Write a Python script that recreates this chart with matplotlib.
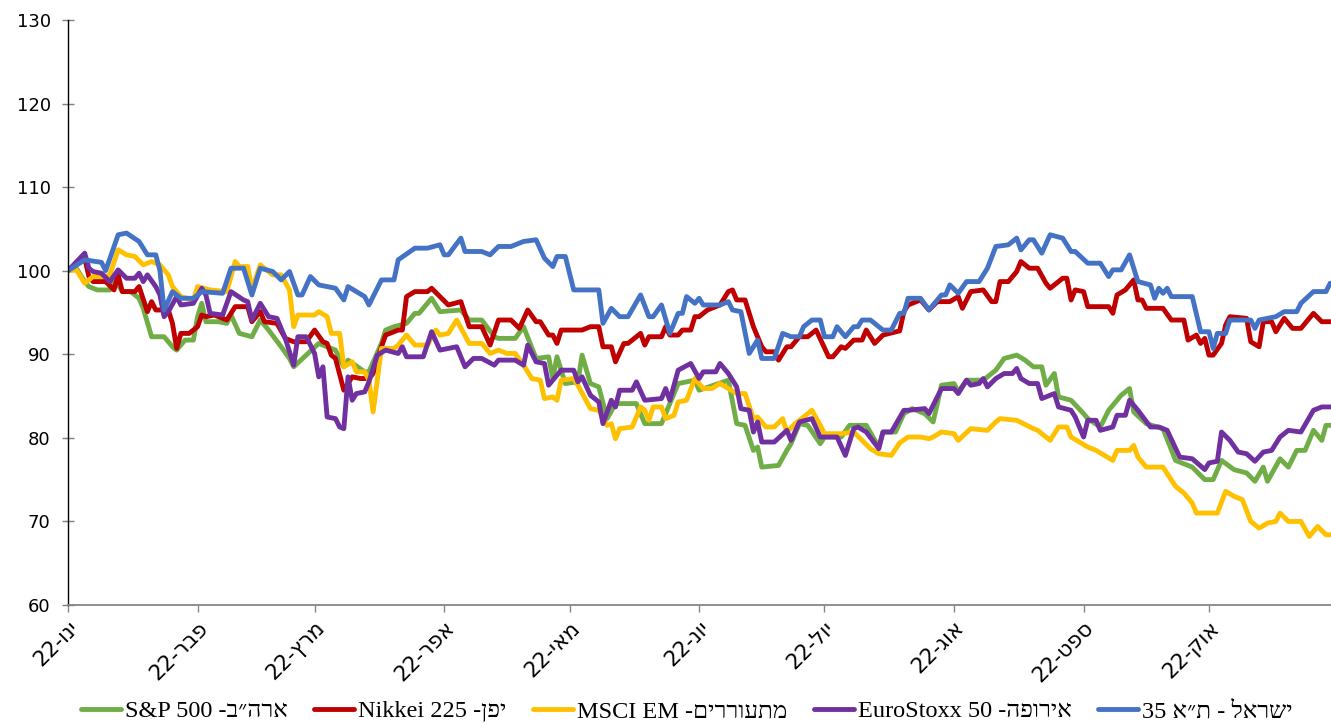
import re
import pandas as pd
import matplotlib
matplotlib.use('Agg')
import matplotlib.pyplot as plt

# index levels (start of year = 100), (days since 2022-01-01, value)
sp500 = [(0, 100), (2, 100.3), (4, 98.7), (5, 98.1), (7, 97.7), (10, 97.7), (11, 99.1), (13, 97.5), (15, 97.5),
         (17, 96.7), (18, 95.5), (20, 92.1), (23, 92.1), (25, 90.9), (26, 90.5), (28, 91.7), (30, 91.7), (31, 94.5),
         (32, 96.1), (33, 93.9), (36, 93.9), (38, 93.7), (39, 94.7), (41, 92.5), (44, 92.1), (46, 94.1), (48, 92.9),
         (51, 90.9), (53, 89.5), (54, 88.5), (60, 91.3), (64, 90.5), (66, 88.5), (67, 89.3), (71, 87.9), (72, 87.9),
         (75, 91.3), (76, 92.9), (78, 93.3), (81, 93.7), (83, 94.9), (84, 94.9), (87, 96.7), (89, 95.1), (94, 95.3),
         (96, 94.1), (99, 94.1), (102, 92.1), (103, 91.9), (107, 91.9), (109, 93.3), (112, 89.5), (115, 89.7),
         (116, 87.1), (117, 89.7), (119, 86.5), (122, 86.7), (123, 89.9), (125, 86.5), (127, 86.1), (129, 82.3),
         (131, 84.1), (136, 84.1), (138, 81.7), (142, 81.7), (146, 86.5), (150, 86.9), (151, 85.7), (158, 86.9),
         (160, 81.7), (162, 81.5), (164, 78.5), (165, 78.9), (166, 76.5), (170, 76.7), (172, 78.5), (173, 79.3),
         (175, 81.7), (177, 81.5), (180, 79.3), (181, 80.1), (185, 80.1), (187, 81.5), (191, 81.5), (194, 78.9),
         (195, 80.7), (198, 80.7), (200, 82.9), (202, 83.5), (205, 82.9), (207, 81.9), (209, 86.3), (212, 86.5),
         (213, 85.5), (215, 86.9), (219, 86.9), (222, 88.1), (224, 89.5), (227, 89.9), (229, 89.3), (231, 88.5),
         (233, 88.5), (234, 86.3), (236, 87.7), (237, 84.9), (240, 84.5), (243, 82.9), (244, 82.3), (247, 81.3),
         (249, 83.3), (252, 85.1), (254, 85.9), (255, 83.1), (258, 81.7), (262, 81.1), (265, 77.3), (269, 76.5),
         (272, 75.0), (274, 75.0), (276, 77.3), (279, 76.2), (282, 75.8), (284, 74.8), (286, 76.5), (287, 74.8),
         (290, 77.5), (292, 76.5), (294, 78.5), (296, 78.5), (298, 80.9), (300, 79.7), (301, 81.5), (302, 81.5)]

nikkei = [(0, 100), (4, 101.5), (5, 99.3), (6, 98.7), (9, 98.7), (11, 97.7), (12, 99.5), (13, 97.5), (16, 97.5),
          (17, 98.1), (19, 95.1), (20, 96.3), (21, 95.3), (24, 95.3), (25, 93.7), (26, 90.7), (27, 92.5), (29, 92.5),
          (31, 93.3), (32, 94.7), (33, 94.5), (35, 94.7), (38, 94.1), (40, 95.7), (43, 95.7), (44, 93.9), (46, 95.1),
          (47, 93.9), (50, 93.7), (52, 91.9), (54, 91.5), (57, 91.5), (59, 92.9), (61, 91.5), (62, 91.3), (63, 89.9),
          (64, 89.5), (66, 85.7), (68, 87.3), (70, 87.1), (72, 87.1), (73, 87.7), (75, 90.9), (76, 92.3), (79, 92.9),
          (80, 92.9), (81, 96.9), (83, 97.5), (86, 97.5), (87, 97.9), (91, 95.9), (94, 96.3), (96, 93.3), (99, 93.3),
          (101, 91.1), (103, 94.1), (106, 94.1), (108, 93.1), (110, 95.3), (112, 93.9), (113, 93.9), (115, 92.3),
          (116, 92.3), (117, 91.3), (118, 92.9), (123, 92.9), (125, 93.3), (127, 93.3), (128, 90.9), (130, 90.9),
          (131, 89.1), (133, 91.3), (134, 91.3), (137, 92.5), (138, 91.1), (139, 92.1), (142, 92.1), (143, 93.3),
          (144, 92.3), (146, 92.3), (147, 92.9), (149, 92.9), (150, 94.5), (151, 94.5), (153, 95.3), (156, 95.9),
          (158, 97.5), (159, 97.7), (160, 96.5), (162, 96.5), (164, 93.3), (166, 90.9), (167, 90.3), (169, 90.3),
          (170, 89.3), (172, 90.9), (173, 90.9), (175, 92.1), (177, 92.1), (179, 92.9), (182, 89.7), (183, 89.7),
          (185, 90.9), (186, 90.7), (188, 91.7), (190, 91.7), (191, 92.9), (193, 91.3), (195, 92.3), (199, 92.8),
          (200, 95.1), (201, 95.9), (204, 96.5), (206, 95.3), (208, 96.3), (211, 96.3), (213, 96.9), (214, 95.5),
          (216, 97.5), (219, 97.7), (221, 96.3), (222, 96.3), (223, 98.7), (225, 98.7), (227, 99.9), (228, 101.1),
          (230, 100.3), (232, 100.3), (234, 98.5), (235, 97.9), (238, 99.1), (239, 99.1), (240, 96.5), (241, 97.7),
          (243, 97.5), (244, 95.7), (249, 95.7), (250, 94.9), (251, 97.1), (253, 97.7), (255, 98.9), (256, 96.5),
          (257, 96.5), (258, 95.5), (262, 95.5), (264, 94.1), (267, 94.1), (268, 91.7), (270, 92.3), (271, 91.3),
          (272, 91.9), (273, 89.9), (274, 89.9), (276, 91.3), (277, 93.5), (278, 94.5), (282, 94.3), (283, 91.5),
          (285, 90.9), (286, 93.9), (288, 93.9), (289, 92.7), (291, 94.3), (293, 93.1), (295, 93.1), (298, 94.9),
          (300, 93.9), (302, 93.9)]

msci_em = [(0, 100), (2, 100.1), (4, 98.5), (6, 99.3), (9, 99.3), (10, 99.5), (12, 102.5), (14, 101.9), (16, 101.7),
           (18, 100.7), (20, 101.1), (22, 100.7), (24, 99.5), (25, 98.1), (27, 96.9), (30, 96.5), (31, 98.1),
           (34, 97.7), (38, 97.5), (40, 101.1), (41, 100.5), (43, 100.5), (44, 97.7), (46, 100.7), (49, 99.5),
           (51, 99.5), (53, 97.7), (54, 93.3), (55, 94.7), (59, 94.7), (60, 95.1), (62, 94.5), (63, 92.5), (65, 92.5),
           (66, 88.5), (68, 89.1), (69, 87.9), (71, 87.9), (72, 86.9), (73, 83.1), (75, 90.7), (76, 90.7), (78, 90.7),
           (79, 91.1), (81, 92.3), (83, 91.1), (86, 91.1), (88, 92.9), (89, 92.3), (91, 92.5), (93, 94.1), (96, 91.3),
           (99, 91.3), (101, 90.1), (103, 90.5), (105, 90.1), (107, 90.1), (109, 88.7), (111, 87.1), (113, 86.9),
           (114, 84.7), (116, 84.9), (117, 84.5), (118, 86.9), (121, 87.1), (122, 86.3), (125, 83.5), (127, 83.3),
           (129, 81.5), (130, 81.7), (131, 79.9), (132, 81.1), (135, 81.3), (137, 83.7), (138, 83.3), (139, 82.1),
           (140, 83.7), (142, 83.7), (143, 82.3), (145, 82.7), (146, 84.3), (148, 84.5), (150, 87.1), (152, 85.9),
           (154, 85.9), (156, 86.5), (158, 85.9), (160, 85.3), (162, 85.3), (164, 82.3), (165, 82.5), (167, 81.3),
           (169, 81.3), (171, 82.3), (172, 80.7), (174, 81.7), (176, 82.5), (178, 83.3), (180, 81.5), (181, 80.5),
           (185, 80.5), (188, 80.7), (192, 78.7), (194, 78.1), (197, 77.9), (199, 79.4), (201, 80.1), (204, 80.1),
           (206, 79.9), (207, 80.1), (209, 80.7), (212, 80.5), (213, 79.7), (216, 81.1), (220, 80.9), (222, 81.9),
           (223, 82.3), (227, 82.1), (231, 81.1), (232, 80.9), (234, 80.1), (235, 79.7), (237, 81.3), (239, 81.3),
           (240, 80.1), (244, 78.9), (246, 78.5), (248, 77.9), (250, 77.3), (251, 78.5), (254, 78.5), (255, 79.1),
           (256, 77.7), (258, 76.5), (262, 76.5), (265, 74.2), (267, 73.4), (269, 72.2), (270, 71.0), (275, 71.0),
           (277, 73.6), (279, 73.0), (281, 72.6), (283, 70.0), (285, 69.2), (287, 69.8), (289, 70.0), (290, 71.0),
           (292, 70.0), (295, 70.0), (297, 68.2), (299, 69.4), (301, 68.4), (302, 68.4)]

eurostoxx = [(0, 100), (4, 102.1), (5, 100.3), (6, 99.9), (8, 99.7), (10, 98.7), (12, 100.1), (14, 99.1), (16, 99.1),
             (17, 99.7), (18, 98.7), (19, 99.5), (21, 98.1), (22, 97.1), (23, 94.5), (24, 95.1), (26, 96.9),
             (27, 95.9), (30, 96.1), (32, 97.9), (33, 97.1), (34, 94.9), (37, 94.7), (39, 97.5), (42, 96.5),
             (43, 96.3), (44, 94.1), (46, 96.1), (48, 94.5), (50, 94.3), (52, 91.9), (54, 88.7), (55, 92.1),
             (57, 92.1), (59, 90.1), (60, 87.3), (61, 88.5), (62, 82.5), (64, 82.3), (65, 81.3), (66, 81.1),
             (67, 87.3), (68, 84.5), (69, 85.3), (71, 85.5), (72, 86.7), (74, 89.9), (76, 90.5), (79, 90.1),
             (80, 90.9), (81, 89.7), (85, 89.7), (87, 92.7), (89, 90.5), (93, 90.9), (95, 88.5), (97, 89.5),
             (99, 89.5), (102, 88.7), (103, 89.3), (107, 89.3), (109, 88.7), (110, 91.1), (112, 89.1), (114, 88.9),
             (115, 86.3), (118, 88.1), (121, 88.1), (122, 86.7), (123, 87.3), (125, 85.1), (127, 84.3), (128, 81.7),
             (130, 84.5), (131, 83.7), (132, 85.7), (135, 85.7), (136, 86.7), (138, 84.5), (142, 84.7), (143, 85.9),
             (144, 84.5), (146, 88.1), (149, 88.9), (151, 87.1), (152, 87.9), (155, 87.9), (156, 88.9), (158, 87.7),
             (160, 86.1), (161, 83.5), (163, 83.3), (164, 80.7), (165, 81.9), (166, 79.5), (169, 79.5), (172, 80.9),
             (173, 79.7), (175, 81.9), (178, 82.3), (180, 80.1), (184, 80.1), (186, 77.9), (188, 81.1), (189, 81.3),
             (191, 80.7), (194, 78.7), (195, 80.7), (197, 80.7), (200, 83.3), (201, 83.3), (205, 83.5), (206, 82.9),
             (209, 85.9), (212, 85.9), (213, 85.3), (215, 86.9), (216, 86.3), (218, 86.5), (219, 87.1), (220, 86.1),
             (222, 87.1), (224, 87.7), (226, 87.7), (227, 88.3), (228, 87.1), (230, 86.5), (232, 86.5), (233, 84.7),
             (236, 85.3), (237, 83.7), (240, 83.3), (241, 82.5), (243, 80.1), (244, 82.1), (246, 82.1), (247, 80.9),
             (250, 81.3), (251, 82.7), (253, 82.7), (254, 84.5), (256, 83.3), (259, 81.3), (261, 81.3), (263, 80.9),
             (266, 77.7), (269, 77.5), (272, 76.2), (273, 77.0), (275, 77.2), (276, 80.7), (278, 79.7), (280, 78.3),
             (282, 78.1), (284, 77.2), (286, 78.3), (288, 78.5), (290, 80.1), (292, 80.9), (295, 80.7), (298, 83.3),
             (300, 83.7), (302, 83.7)]

ta35 = [(0, 100), (4, 101.3), (8, 101), (9, 100), (12, 104.3), (14, 104.5), (17, 103.5), (19, 101.9), (21, 101.9),
        (22, 100), (23, 95.3), (25, 97.5), (27, 96.7), (30, 96.7), (32, 97.5), (37, 97.3), (39, 100.3), (42, 100.3),
        (44, 97.1), (46, 100.3), (49, 99.9), (51, 98.9), (53, 99.9), (55, 97.1), (56, 97.1), (58, 99.3), (60, 98.3),
        (62, 98.1), (64, 97.9), (66, 96.5), (67, 98.1), (71, 96.9), (72, 95.9), (75, 98.9), (78, 98.9), (79, 101.3),
        (83, 102.7), (86, 102.7), (89, 103.1), (90, 101.9), (91, 101.9), (94, 103.9), (95, 102.3), (99, 102.3),
        (101, 101.9), (103, 102.9), (106, 102.9), (109, 103.5), (112, 103.7), (114, 101.5), (116, 100.5),
        (117, 101.7), (119, 101.7), (121, 97.7), (127, 97.7), (128, 93.7), (130, 95.5), (132, 94.5), (134, 94.5),
        (137, 97.1), (139, 94.5), (140, 94.5), (142, 95.9), (144, 92.5), (146, 94.9), (147, 94.9), (148, 96.9),
        (150, 96.1), (151, 96.7), (152, 95.9), (156, 95.9), (158, 96.3), (159, 95.3), (161, 95.1), (163, 90.1),
        (165, 91.7), (166, 89.5), (169, 89.5), (171, 92.5), (173, 92.1), (175, 92.1), (176, 93.3), (178, 94.1),
        (180, 94.1), (181, 92.1), (183, 92.1), (184, 93.3), (186, 92.1), (188, 93.3), (189, 93.3), (190, 94.1),
        (192, 94.1), (195, 92.9), (197, 92.9), (199, 94.9), (200, 94.9), (201, 96.7), (204, 96.7), (206, 95.3),
        (209, 97.1), (210, 97.1), (211, 98.3), (213, 97.3), (215, 98.7), (218, 98.7), (220, 100.3), (222, 102.9),
        (225, 103.1), (227, 103.9), (228, 102.5), (230, 103.7), (231, 103.7), (233, 102.1), (235, 104.3),
        (238, 103.9), (240, 102.3), (241, 102.3), (244, 100.9), (247, 100.9), (249, 99.3), (250, 100.1),
        (252, 100.1), (254, 101.9), (256, 98.7), (259, 98.3), (260, 96.7), (261, 97.9), (262, 97.3), (263, 97.9),
        (264, 96.9), (269, 96.9), (271, 92.7), (273, 92.7), (274, 90.7), (275, 92.5), (277, 92.5), (278, 94.1),
        (283, 94.1), (284, 93.1), (285, 94.1), (289, 94.5), (291, 95.1), (294, 95.1), (295, 96.1), (298, 97.5),
        (301, 97.5), (302, 98.5)]

labels = ['ארה״ב- S&P 500', 'יפן- Nikkei 225', 'מתעוררים- MSCI EM', 'אירופה- EuroStoxx 50', 'ישראל - ת״א 35']
colors = ['#70AD47', '#C00000', '#FFC000', '#7030A0', '#4472C4']
month_labels = ['ינו-22', 'פבר-22', 'מרץ-22', 'אפר-22', 'מאי-22', 'יונ-22', 'יול-22', 'אוג-22', 'ספט-22', 'אוק-22']
y_ticks = [60, 70, 80, 90, 100, 110, 120, 130]

start = pd.Timestamp('2022-01-01')


def visual(s):
    # matplotlib draws left to right, so put hebrew (RTL) text into display order by hand
    ltr = r'[A-Za-z0-9](?:[A-Za-z0-9&. ]*[A-Za-z0-9])?'
    parts = re.split('(' + ltr + ')', s)
    out = [p if re.fullmatch(ltr, p) else p[::-1] for p in parts]
    return ''.join(out[::-1])


fig = plt.figure(figsize=(13.31, 7.23), dpi=100)
ax = fig.add_axes([68 / 1331, 1 - 605 / 723, (1331 - 68) / 1331, 585 / 723])

for pts, label, color in zip([sp500, nikkei, msci_em, eurostoxx, ta35], labels, colors):
    days, vals = zip(*pts)
    dates = start + pd.to_timedelta(list(days), unit='D')
    ax.plot(dates, vals, color=color, lw=3.5, label=visual(label),
            solid_joinstyle='round', solid_capstyle='round')

ax.set_ylim(60, 130)
ax.set_yticks(y_ticks)
ax.set_xlim(start, start + pd.Timedelta(days=302.2))
ax.set_xticks(pd.date_range('2022-01-01', '2022-10-01', freq='MS'))
ax.set_xticklabels([visual(m) for m in month_labels], rotation=45, ha='right', va='top',
                   rotation_mode='anchor', fontsize=15.5, family=['DejaVu Sans'])
for t in ax.get_yticklabels():
    t.set_fontsize(13)
    t.set_family(['DejaVu Sans'])

ax.spines['top'].set_visible(False)
ax.spines['right'].set_visible(False)
ax.spines['left'].set_color('black')
ax.spines['left'].set_linewidth(1)
ax.spines['bottom'].set_color('#868686')
ax.spines['bottom'].set_linewidth(1.3)
ax.tick_params(axis='y', direction='inout', length=9, width=1, color='#7f7f7f', pad=8)
ax.tick_params(axis='x', direction='out', length=5, width=1, color='#868686', pad=4)

leg = fig.legend(loc='center left', bbox_to_anchor=(69 / 1331, 1 - 711 / 723), ncol=5, frameon=False,
                 borderpad=0, handlelength=1.65, handletextpad=0.15, columnspacing=1.1,
                 prop={'family': ['Liberation Serif', 'DejaVu Sans'], 'size': 17.5})

fig.savefig('out.png', dpi=100)
